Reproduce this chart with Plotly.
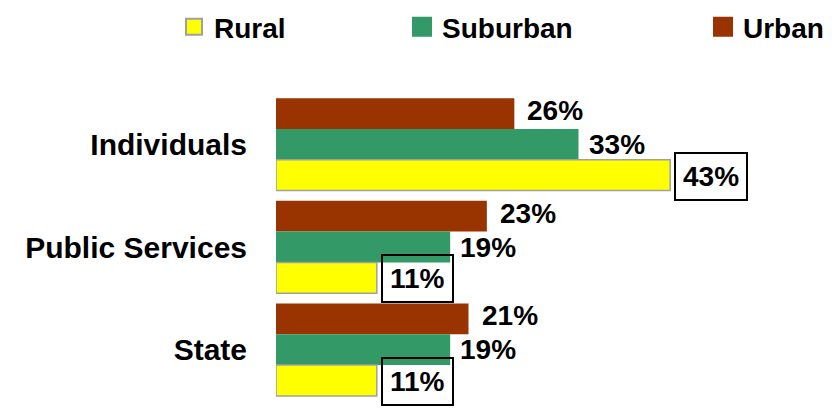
import plotly.graph_objects as go

# Survey shares by category and community type (percent)
categories = ["Individuals", "Public Services", "State"]
urban = [26, 23, 21]
suburban = [33, 19, 19]
rural = [43, 11, 11]

FONT = "Liberation Sans, Arial, Helvetica, sans-serif"
COLORS = {"Rural": "#FFFF00", "Suburban": "#339966", "Urban": "#993300"}
RURAL_EDGE = "#a0a0a0"

# Top-to-bottom order inside each group (y axis is reversed)
series = [("Urban", urban), ("Suburban", suburban), ("Rural", rural)]

fig = go.Figure()
for name, vals in series:
    fig.add_trace(go.Bar(
        name=name, y=categories, x=vals, orientation="h",
        marker=dict(color=COLORS[name],
                    line=dict(color=RURAL_EDGE if name == "Rural" else COLORS[name],
                              width=1.5 if name == "Rural" else 0)),
        showlegend=False, hoverinfo="skip",
    ))

# Legend entries, each in its own legend box so they can sit apart
legend_slots = {"Rural": ("legend", 174), "Suburban": ("legend2", 402), "Urban": ("legend3", 703)}
for name in ["Rural", "Suburban", "Urban"]:
    lg, _ = legend_slots[name]
    fig.add_trace(go.Scatter(
        name=name, x=[None], y=[None], mode="markers", legend=lg,
        marker=dict(symbol="square", size=16, color=COLORS[name],
                    line=dict(color=RURAL_EDGE if name == "Rural" else COLORS[name],
                              width=2 if name == "Rural" else 4)),
    ))

legend_common = dict(
    xref="container", yref="container", xanchor="left", yanchor="middle",
    orientation="h", bgcolor="rgba(0,0,0,0)", borderwidth=0,
    font=dict(family=FONT, size=28, color="black", weight="bold"),
    itemclick=False, itemdoubleclick=False,
)
legend_layouts = {}
for name, (lg, left) in legend_slots.items():
    legend_layouts[lg] = dict(legend_common, x=left / 832, y=1 - 27 / 408)

# Value labels: plain for urban/suburban, boxed for rural
annotations = []
bar_step = 0.9 / 3
label_style = {
    "Urban": dict(xshift=11, yshift=3, boxed=False),
    "Suburban": dict(xshift=8, yshift=0, boxed=False),
    "Rural": dict(xshift=4, yshift=-1, boxed=True),
}
for i, (name, vals) in enumerate(series):
    st = label_style[name]
    for j, v in enumerate(vals):
        ann = dict(
            x=v, y=j + (i - 1) * bar_step, xref="x", yref="y",
            text=f"{v}%", showarrow=False, xanchor="left", yanchor="middle",
            xshift=st["xshift"], yshift=st["yshift"],
            font=dict(family=FONT, size=28, color="black", weight="bold"),
        )
        if st["boxed"]:
            ann.update(bordercolor="black", borderwidth=2, borderpad=7,
                       bgcolor="rgba(0,0,0,0)")
        annotations.append(ann)

fig.update_layout(
    width=832, height=408,
    margin=dict(l=276, r=6, t=93, b=4),
    paper_bgcolor="white", plot_bgcolor="white",
    barmode="group", bargap=0.1, bargroupgap=0,
    annotations=annotations,
    xaxis=dict(range=[0, 60], visible=False, fixedrange=True),
    yaxis=dict(
        categoryorder="array", categoryarray=categories, autorange="reversed",
        showgrid=False, zeroline=False, showline=False, ticks="",
        ticklabelstandoff=28,
        tickfont=dict(family=FONT, size=30, color="black", weight="bold"),
        fixedrange=True,
    ),
    **legend_layouts,
)

fig.write_html("out.html")
